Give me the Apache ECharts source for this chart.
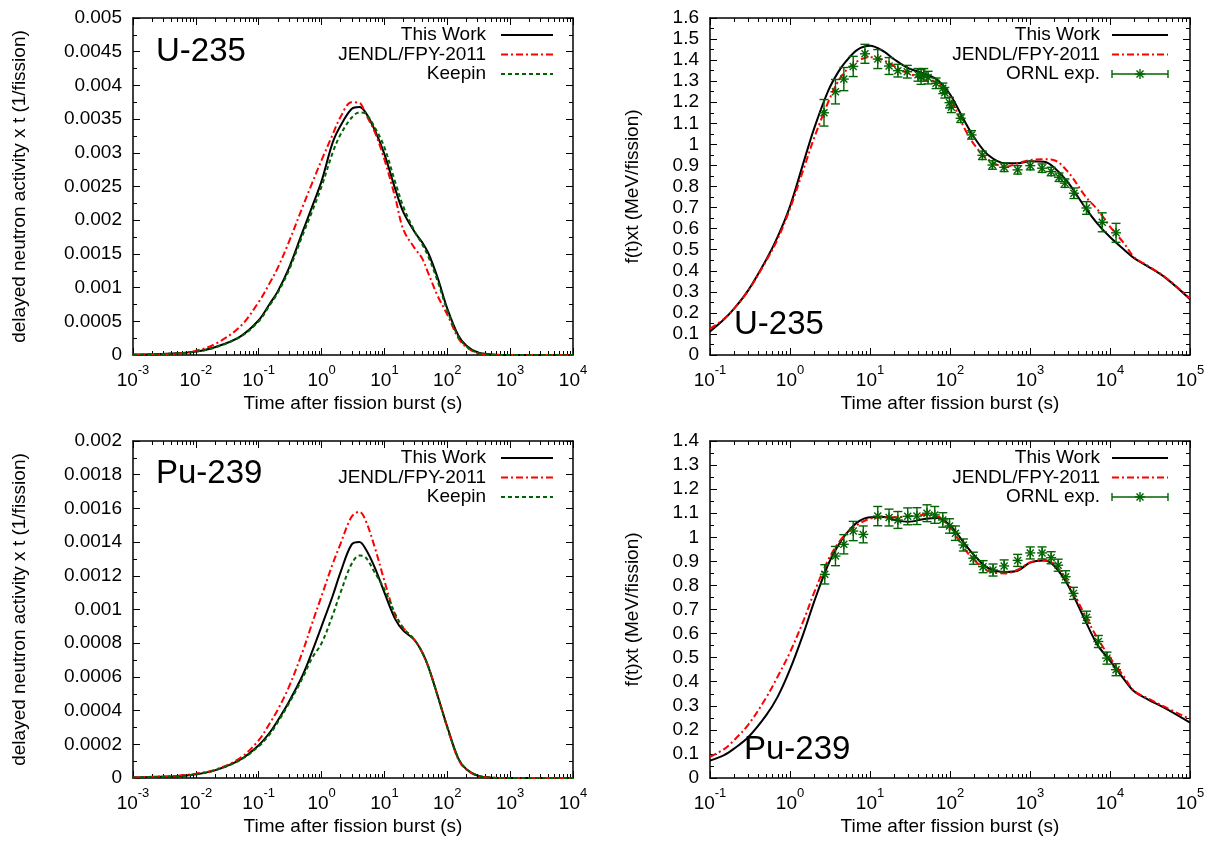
<!DOCTYPE html>
<html>
<head>
<meta charset="utf-8">
<script src="https://cdn.jsdelivr.net/npm/echarts@6/dist/echarts.min.js"></script>
<style>
  html, body { margin: 0; padding: 0; background: #fff; }
  #main { width: 1211px; height: 843px; }
</style>
</head>
<body>
<div id="main"></div>
<script>
// time points (s) of the delayed neutron curves
var tDn = [0.001, 0.002, 0.005, 0.01, 0.02, 0.05, 0.1, 0.15, 0.2, 0.3, 0.5, 0.7, 1, 1.5, 2, 3, 4, 5, 7, 10,
           15, 20, 30, 40, 50, 70, 100, 150, 200, 300, 500, 1000, 10000];
// U-235 delayed neutron activity x t (1/fission)
var u235DnThisWork = [0.000005, 0.00001, 0.000025, 0.00005, 0.000115, 0.00027, 0.000515, 0.00076, 0.00094, 0.00128,
                      0.00183, 0.00219, 0.00258, 0.00315, 0.0034, 0.00365, 0.00368, 0.0036, 0.00334, 0.00298,
                      0.00245, 0.00212, 0.00183, 0.00167, 0.00151, 0.00115, 0.00069, 0.00029, 0.00014, 0.00004,
                      0.000008, 0, 0];
var u235DnJendl = [0.000005, 0.00001, 0.00002, 0.000065, 0.00016, 0.000416, 0.000786, 0.00107, 0.00129, 0.00167,
                   0.0022, 0.00254, 0.00289, 0.00327, 0.00353, 0.00375, 0.00374, 0.00358, 0.00331, 0.0029,
                   0.00232, 0.00186, 0.00159, 0.00143, 0.00121, 0.00088, 0.0006, 0.00025, 0.00012, 0.00003,
                   0.000005, 0, 0];
var u235DnKeepin = [0.000005, 0.00001, 0.000025, 0.00005, 0.00011, 0.000265, 0.0005, 0.00074, 0.00092, 0.00125,
                    0.00178, 0.00212, 0.0025, 0.003, 0.00327, 0.00352, 0.0036, 0.00358, 0.00338, 0.00308,
                    0.00255, 0.0022, 0.00184, 0.00164, 0.00146, 0.0011, 0.00066, 0.00027, 0.00013, 0.000035,
                    0.000006, 0, 0];
// Pu-239 delayed neutron activity x t (1/fission)
var pu239DnThisWork = [0.000003, 0.000006, 0.00001, 0.000022, 0.000045, 0.000107, 0.000195, 0.00027, 0.00034, 0.00045,
                       0.00061, 0.000745, 0.0009, 0.00108, 0.00122, 0.001385, 0.0014, 0.00136, 0.00125, 0.0011,
                       0.00094, 0.000875, 0.00082, 0.000745, 0.00066, 0.00049, 0.000304, 0.000115, 0.000053, 0.000015,
                       0.000002, 0, 0];
var pu239DnJendl = [0.000003, 0.000007, 0.000013, 0.000026, 0.000048, 0.000117, 0.000224, 0.000325, 0.000404, 0.000538,
                    0.00075, 0.000913, 0.00108, 0.00127, 0.00139, 0.00155, 0.00158, 0.00153, 0.00137, 0.00117,
                    0.00096, 0.00089, 0.00082, 0.000745, 0.00066, 0.00049, 0.0003, 0.00011, 0.00005, 0.000014,
                    0.000002, 0, 0];
var pu239DnKeepin = [0.000003, 0.000006, 0.00001, 0.000022, 0.000045, 0.000105, 0.000188, 0.00026, 0.00033, 0.00044,
                     0.000595, 0.00071, 0.0008, 0.000966, 0.0011, 0.00127, 0.00132, 0.00131, 0.00122, 0.00112,
                     0.00097, 0.00089, 0.00082, 0.000745, 0.00066, 0.00049, 0.0003, 0.000115, 0.000053, 0.000015,
                     0.000002, 0, 0];

// time points (s) of the decay heat curves
var tHeat = [0.1, 0.15, 0.2, 0.3, 0.5, 0.7, 1, 1.5, 2, 3, 4, 5, 7, 10, 15, 20, 30, 50, 70, 100, 150, 200, 300,
             500, 700, 1000, 1500, 2000, 3000, 5000, 7000, 10000, 15000, 20000, 30000, 50000, 100000];
// U-235 f(t) x t (MeV/fission)
var u235HeatThisWork = [0.112, 0.17, 0.22, 0.307, 0.45, 0.561, 0.706, 0.923, 1.075, 1.254, 1.343, 1.394, 1.45, 1.468,
                        1.44, 1.404, 1.362, 1.333, 1.305, 1.238, 1.114, 1.034, 0.95, 0.91, 0.91, 0.92, 0.917, 0.89,
                        0.818, 0.695, 0.623, 0.56, 0.5, 0.46, 0.42, 0.365, 0.265];
var u235HeatJendl = [0.125, 0.172, 0.22, 0.305, 0.445, 0.55, 0.695, 0.89, 1.03, 1.2, 1.3, 1.35, 1.395, 1.414,
                     1.398, 1.372, 1.338, 1.305, 1.292, 1.22, 1.08, 1.0, 0.928, 0.894, 0.91, 0.925, 0.929, 0.925,
                     0.868, 0.75, 0.69, 0.61, 0.53, 0.465, 0.422, 0.367, 0.268];
// Pu-239 f(t) x t (MeV/fission)
var pu239HeatThisWork = [0.072, 0.095, 0.122, 0.169, 0.259, 0.337, 0.451, 0.608, 0.732, 0.887, 0.966, 1.013, 1.063,
                         1.083, 1.084, 1.073, 1.065, 1.077, 1.08, 1.05, 0.976, 0.926, 0.872, 0.856, 0.861, 0.895,
                         0.904, 0.882, 0.8, 0.648, 0.552, 0.488, 0.41, 0.36, 0.326, 0.288, 0.23];
var pu239HeatJendl = [0.088, 0.12, 0.157, 0.221, 0.332, 0.421, 0.522, 0.66, 0.77, 0.906, 0.975, 1.014, 1.052,
                      1.077, 1.083, 1.083, 1.087, 1.094, 1.087, 1.04, 0.955, 0.906, 0.86, 0.85, 0.865, 0.895,
                      0.905, 0.89, 0.81, 0.668, 0.58, 0.5, 0.42, 0.362, 0.33, 0.293, 0.245];

// ORNL measurements: time (s), value, error
var ornlU235T = [2.66, 3.7, 4.71, 6.17, 8.65, 12.5, 17.3, 22.3, 29.2, 39.8, 43.5, 47, 53.2, 67, 81.3, 86, 98.6,
                 104, 136, 186, 254, 339, 475, 701, 1007, 1416, 1837, 2303, 2730, 3540, 5090, 8000, 11900];
var ornlU235V = [1.15, 1.25, 1.31, 1.37, 1.43, 1.405, 1.372, 1.35, 1.345, 1.33, 1.32, 1.33, 1.317, 1.29, 1.266,
                 1.245, 1.198, 1.176, 1.124, 1.045, 0.948, 0.902, 0.891, 0.879, 0.899, 0.887, 0.871, 0.844, 0.816,
                 0.768, 0.698, 0.63, 0.58];
var ornlU235Err = [0.063, 0.058, 0.055, 0.048, 0.045, 0.045, 0.04, 0.03, 0.03, 0.03, 0.035, 0.03, 0.03, 0.025,
                   0.025, 0.025, 0.025, 0.025, 0.02, 0.02, 0.02, 0.02, 0.02, 0.02, 0.02, 0.02, 0.02, 0.02, 0.02,
                   0.025, 0.03, 0.045, 0.045];
var ornlPu239T = [2.72, 3.7, 4.71, 6.17, 8.24, 12.5, 17.3, 22.3, 29.6, 38.6, 51.6, 64.5, 81.3, 98.6, 117, 147,
                  196, 259, 345, 475, 701, 1007, 1416, 1837, 2250, 2790, 3500, 5090, 7150, 9160, 11900];
var ornlPu239V = [0.846, 0.922, 0.971, 1.026, 1.012, 1.088, 1.082, 1.072, 1.087, 1.088, 1.1, 1.093, 1.072, 1.047,
                  1.017, 0.968, 0.913, 0.878, 0.864, 0.881, 0.904, 0.935, 0.935, 0.915, 0.884, 0.836, 0.767,
                  0.668, 0.567, 0.498, 0.45];
var ornlPu239Err = [0.04, 0.04, 0.04, 0.04, 0.035, 0.04, 0.035, 0.035, 0.035, 0.035, 0.035, 0.035, 0.03, 0.03,
                    0.03, 0.025, 0.025, 0.025, 0.025, 0.025, 0.025, 0.025, 0.025, 0.025, 0.025, 0.025, 0.025,
                    0.025, 0.025, 0.025, 0.025];

var FONT = '"Liberation Sans", Arial, sans-serif';
var PT_GREEN = '#006400';

var chart = echarts.init(document.getElementById('main'), null, { renderer: 'canvas' });

var grids = [
  { left: 133, top: 18, width: 440, height: 337 },
  { left: 710, top: 18, width: 480, height: 337 },
  { left: 133, top: 441, width: 440, height: 337 },
  { left: 710, top: 441, width: 480, height: 337 }
];

function pairs(t, v) {
  return t.map(function (x, i) { return [x, v[i]]; });
}
function triples(t, v, e) {
  return t.map(function (x, i) { return [x, v[i], e[i]]; });
}

// 2..9 x 10^k positions for the log axis minor ticks
function minorTicks(lo, hi) {
  var out = [];
  for (var k = lo; k < hi; k++) {
    for (var m = 2; m <= 9; m++) out.push(m * Math.pow(10, k));
  }
  return out;
}

function powLabel(v) {
  var e = Math.round(Math.log(v) / Math.LN10);
  return '{b|10}{e|' + e + '}';
}

function logAxis(gi, pos, min, max, withLabel) {
  return {
    type: 'log', logBase: 10, gridIndex: gi, position: pos, min: min, max: max,
    interval: 1, splitNumber: 8,
    axisLine: { show: true, onZero: false, lineStyle: { color: '#000', width: 1.5 } },
    axisTick: { show: true, inside: true, length: 7, lineStyle: { color: '#000', width: 1 } },
    splitLine: { show: false },
    axisLabel: {
      show: withLabel, margin: 9, formatter: powLabel,
      rich: {
        b: { fontSize: 19, fontFamily: FONT, color: '#000', lineHeight: 26, verticalAlign: 'bottom' },
        e: { fontSize: 13, fontFamily: FONT, color: '#000', lineHeight: 14, verticalAlign: 'top' }
      }
    },
    name: withLabel ? 'Time after fission burst (s)' : '',
    nameLocation: 'middle', nameGap: 39,
    nameTextStyle: { fontSize: 19, fontFamily: FONT, color: '#000' }
  };
}

function valAxis(gi, pos, max, step, name, gap, withLabel) {
  return {
    type: 'value', gridIndex: gi, position: pos, min: 0, max: max, interval: step,
    axisLine: { show: true, onZero: false, lineStyle: { color: '#000', width: 1.5 } },
    axisTick: { show: true, inside: true, length: 7, lineStyle: { color: '#000', width: 1 } },
    minorTick: { show: true, splitNumber: 2, length: 4, lineStyle: { color: '#000', width: 1 } },
    splitLine: { show: false },
    axisLabel: {
      show: withLabel, margin: 11, fontSize: 19, fontFamily: FONT, color: '#000',
      formatter: function (v) { return String(parseFloat(v.toFixed(6))); }
    },
    name: name, nameLocation: 'middle', nameGap: gap, nameRotate: 90,
    nameTextStyle: { fontSize: 19, fontFamily: FONT, color: '#000' }
  };
}

var dnName = 'delayed neutron activity x t (1/fission)';
var heatName = 'f(t)xt (MeV/fission)';

var xAxes = [], yAxes = [];
[[0.001, 10000], [0.1, 100000], [0.001, 10000], [0.1, 100000]].forEach(function (r, gi) {
  xAxes.push(logAxis(gi, 'bottom', r[0], r[1], true));
  xAxes.push(logAxis(gi, 'top', r[0], r[1], false));
});
yAxes.push(valAxis(0, 'left', 0.005, 0.0005, dnName, 104, true), valAxis(0, 'right', 0.005, 0.0005, '', 0, false));
yAxes.push(valAxis(1, 'left', 1.6, 0.1, heatName, 68, true), valAxis(1, 'right', 1.6, 0.1, '', 0, false));
yAxes.push(valAxis(2, 'left', 0.002, 0.0002, dnName, 104, true), valAxis(2, 'right', 0.002, 0.0002, '', 0, false));
yAxes.push(valAxis(3, 'left', 1.4, 0.1, heatName, 68, true), valAxis(3, 'right', 1.4, 0.1, '', 0, false));

var DASHDOT = [7, 3, 2, 3];
var DOTTED = [4, 3];

function curve(name, gi, t, v, color, type) {
  return {
    name: name, type: 'line', xAxisIndex: 2 * gi, yAxisIndex: 2 * gi,
    data: pairs(t, v), showSymbol: false, symbol: 'none',
    smooth: 0.35, silent: true,
    lineStyle: { color: color, width: 2, type: type }
  };
}

function seg(x1, y1, x2, y2, style) {
  return { type: 'line', shape: { x1: x1, y1: y1, x2: x2, y2: y2 }, style: style };
}

function errMark(x, y, hi, lo) {
  var s = { stroke: PT_GREEN, lineWidth: 1.4 };
  var r = 5, d = 3.5, cap = 4.5;
  return [
    seg(x, hi, x, lo, s), seg(x - cap, hi, x + cap, hi, s), seg(x - cap, lo, x + cap, lo, s),
    seg(x - r, y, x + r, y, s), seg(x, y - r, x, y + r, s),
    seg(x - d, y - d, x + d, y + d, s), seg(x - d, y + d, x + d, y - d, s)
  ];
}

function ornl(gi, t, v, e) {
  return {
    name: 'ORNL exp.', type: 'custom', xAxisIndex: 2 * gi, yAxisIndex: 2 * gi,
    data: triples(t, v, e), encode: { x: 0, y: 1 }, silent: true, z: 5,
    renderItem: function (params, api) {
      var tt = api.value(0), vv = api.value(1), ee = api.value(2);
      var c = api.coord([tt, vv]);
      var hi = api.coord([tt, vv + ee])[1];
      var lo = api.coord([tt, vv - ee])[1];
      return { type: 'group', children: errMark(c[0], c[1], hi, lo) };
    }
  };
}

function minorSeries(gi, lo, hi) {
  return {
    type: 'custom', xAxisIndex: 2 * gi, yAxisIndex: 2 * gi, silent: true, clip: false,
    data: minorTicks(lo, hi).map(function (x) { return [x, 0]; }),
    encode: { x: 0, y: 1 }, z: 1,
    renderItem: function (params, api) {
      var cs = params.coordSys;
      var x = Math.round(api.coord([api.value(0), 0])[0]) + 0.5;
      var s = { stroke: '#000', lineWidth: 1 };
      var b = cs.y + cs.height;
      return {
        type: 'group', children: [
          seg(x, b, x, b - 4, s), seg(x, cs.y, x, cs.y + 4, s)
        ]
      };
    }
  };
}

var series = [
  minorSeries(0, -3, 4), minorSeries(1, -1, 5), minorSeries(2, -3, 4), minorSeries(3, -1, 5),
  curve('This Work', 0, tDn, u235DnThisWork, '#000', 'solid'),
  curve('JENDL/FPY-2011', 0, tDn, u235DnJendl, '#ff0000', DASHDOT),
  curve('Keepin', 0, tDn, u235DnKeepin, PT_GREEN, DOTTED),
  curve('This Work', 1, tHeat, u235HeatThisWork, '#000', 'solid'),
  curve('JENDL/FPY-2011', 1, tHeat, u235HeatJendl, '#ff0000', DASHDOT),
  ornl(1, ornlU235T, ornlU235V, ornlU235Err),
  curve('This Work', 2, tDn, pu239DnThisWork, '#000', 'solid'),
  curve('JENDL/FPY-2011', 2, tDn, pu239DnJendl, '#ff0000', DASHDOT),
  curve('Keepin', 2, tDn, pu239DnKeepin, PT_GREEN, DOTTED),
  curve('This Work', 3, tHeat, pu239HeatThisWork, '#000', 'solid'),
  curve('JENDL/FPY-2011', 3, tHeat, pu239HeatJendl, '#ff0000', DASHDOT),
  ornl(3, ornlPu239T, ornlPu239V, ornlPu239Err)
];

// key boxes in the gnuplot style: text right-aligned, sample on the right
function keyBox(textRight, x1, x2, y0, third) {
  var els = [];
  var names = ['This Work', 'JENDL/FPY-2011', third];
  var styles = [
    { stroke: '#000', lineWidth: 2 },
    { stroke: '#ff0000', lineWidth: 2, lineDash: DASHDOT },
    { stroke: PT_GREEN, lineWidth: 2, lineDash: DOTTED }
  ];
  names.forEach(function (n, i) {
    var y = y0 + i * 19.5;
    els.push({
      type: 'text', x: textRight, y: y,
      style: { text: n, fontSize: 19, fontFamily: FONT, fill: '#000', align: 'right', verticalAlign: 'middle' }
    });
    if (n === 'ORNL exp.') {
      var s = { stroke: PT_GREEN, lineWidth: 1.4 };
      els.push(seg(x1, y, x2, y, s), seg(x1, y - 4, x1, y + 4, s), seg(x2, y - 4, x2, y + 4, s));
      var xm = (x1 + x2) / 2;
      els.push(seg(xm - 5, y, xm + 5, y, s), seg(xm, y - 5, xm, y + 5, s),
               seg(xm - 3.5, y - 3.5, xm + 3.5, y + 3.5, s), seg(xm - 3.5, y + 3.5, xm + 3.5, y - 3.5, s));
    } else {
      els.push(seg(x1, y, x2, y, styles[i]));
    }
  });
  return els;
}

function bigLabel(text, x, y) {
  return {
    type: 'text', x: x, y: y,
    style: { text: text, fontSize: 33, fontFamily: FONT, fill: '#000', align: 'left', verticalAlign: 'middle' }
  };
}

var graphics = []
  .concat(keyBox(486, 501, 553, 35, 'Keepin'))
  .concat(keyBox(1100, 1112, 1168, 35, 'ORNL exp.'))
  .concat(keyBox(486, 501, 553, 458, 'Keepin'))
  .concat(keyBox(1100, 1112, 1168, 458, 'ORNL exp.'))
  .concat([
    bigLabel('U-235', 156, 52),
    bigLabel('U-235', 734, 325),
    bigLabel('Pu-239', 156, 474),
    bigLabel('Pu-239', 744, 750)
  ]);

chart.setOption({
  animation: false,
  backgroundColor: '#fff',
  textStyle: { fontFamily: FONT },
  grid: grids.map(function (g) {
    return { left: g.left, top: g.top, width: g.width, height: g.height, containLabel: false, outerBoundsMode: 'none' };
  }),
  xAxis: xAxes,
  yAxis: yAxes,
  series: series,
  graphic: { elements: graphics.map(function (e) { e.z = 100; return e; }) }
});

window.addEventListener('resize', function () { chart.resize(); });
</script>
</body>
</html>
